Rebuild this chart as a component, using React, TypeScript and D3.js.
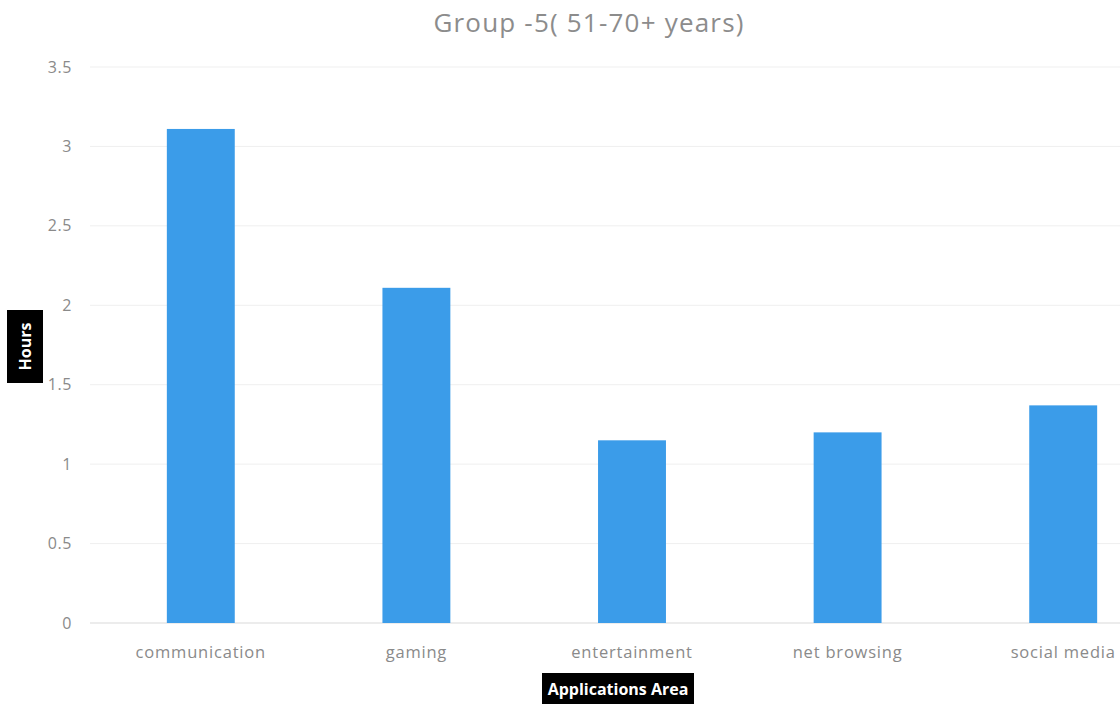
import React from "react";
import * as d3 from "d3";

const categories = ["communication", "gaming", "entertainment", "net browsing", "social media"];
const hours = [3.11, 2.11, 1.15, 1.2, 1.37];
const yTicks = [0, 0.5, 1, 1.5, 2, 2.5, 3, 3.5];
const title = "Group -5( 51-70+ years)";
const xTitle = "Applications Area";
const yTitle = "Hours";

export default function App() {
  const W = 1120, H = 704;
  const x = d3.scaleBand<string>().domain(categories).range([93, 1171]).paddingInner(0.685).paddingOuter(0.3425);
  const y = d3.scaleLinear().domain([0, 3.5]).range([623, 67]);
  const font = "'Open Sans', 'Liberation Sans', sans-serif";
  return (
    <svg width={W} height={H} style={{ position: "absolute", left: 0, top: 0, background: "#fff" }} fontFamily={font}>
      <rect width={W} height={H} fill="#fff" />
      <text x={589} y={32} textAnchor="middle" fontSize={26} letterSpacing={1.2} fill="#8c8c8c">{title}</text>
      {yTicks.map((t) => (
        <g key={t}>
          <line x1={90} x2={1120} y1={y(t)} y2={y(t)} stroke={t === 0 ? "#d9d9d9" : "#efefef"} strokeWidth={1} />
          <text x={72} y={y(t)} dy="0.35em" textAnchor="end" fontSize={16} letterSpacing={0.6} fill="#8a8a8a">{t}</text>
        </g>
      ))}
      {categories.map((c, i) => (
        <g key={c}>
          <rect x={x(c)} y={y(hours[i])} width={x.bandwidth()} height={y(0) - y(hours[i])} fill="#3b9ce9" />
          <text x={(x(c) as number) + x.bandwidth() / 2} y={658} textAnchor="middle" fontSize={16.5} letterSpacing={0.8} fill="#8a8a8a">{c}</text>
        </g>
      ))}
      <rect x={542} y={673} width={152} height={31} fill="#000" />
      <text x={618} y={695} textAnchor="middle" fontSize={16} fontWeight="bold" fill="#fff">{xTitle}</text>
      <rect x={7} y={310} width={36} height={73} fill="#000" />
      <text transform="translate(31,346.5) rotate(-90)" textAnchor="middle" fontSize={16} fontWeight="bold" fill="#fff">{yTitle}</text>
    </svg>
  );
}
